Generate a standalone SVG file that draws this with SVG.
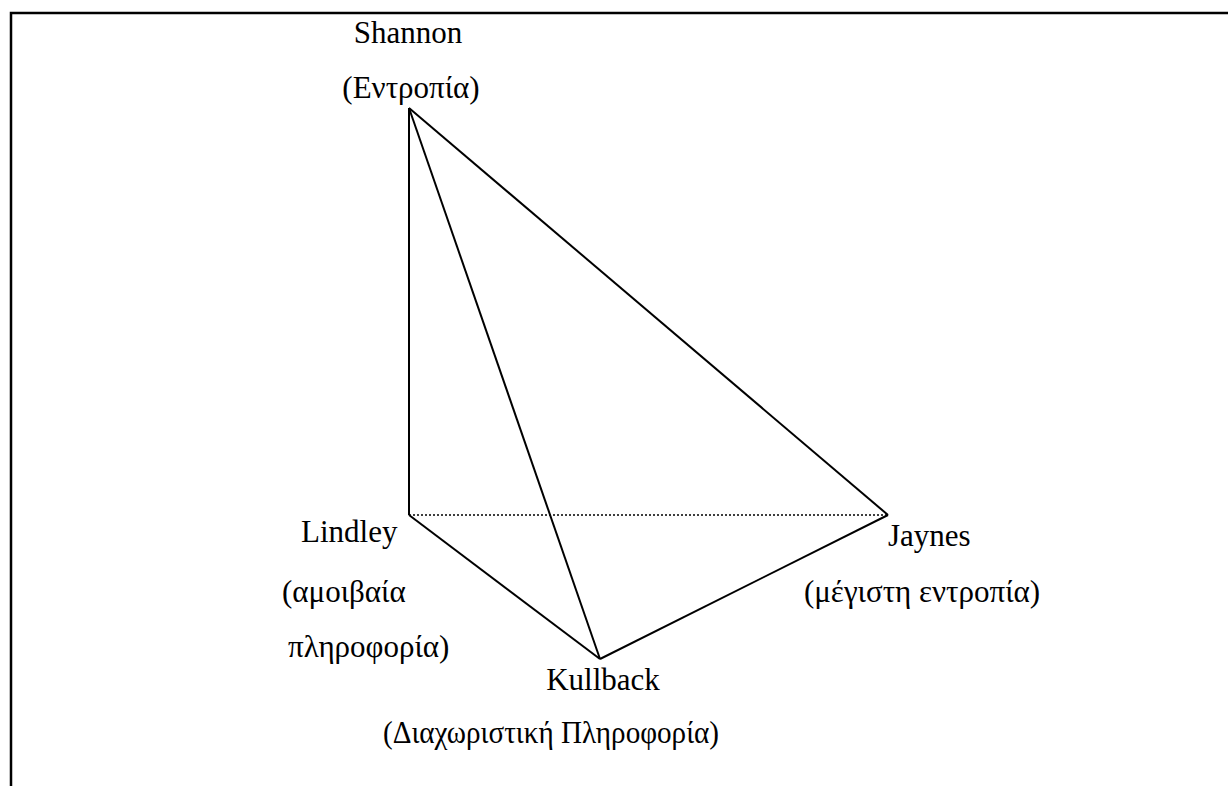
<svg xmlns="http://www.w3.org/2000/svg" width="1228" height="786" viewBox="0 0 1228 786">
<style>
text{font-family:"Liberation Serif","Times New Roman",serif;font-size:31px;fill:#000}
.m{text-anchor:middle}
.e{stroke:#000;stroke-width:2;fill:none}
.d{stroke:#000;stroke-width:1.5;stroke-dasharray:2 2;fill:none}
</style>
<rect width="1228" height="786" fill="#fff"/>
<g id="frame"><path d="M11 786 V13 H1228" stroke="#000" stroke-width="2.5" fill="none"/></g>
<g id="connectors">
<line class="e" x1="409" y1="108" x2="409" y2="515"/>
<line class="e" x1="409" y1="108" x2="600" y2="659"/>
<line class="e" x1="409" y1="108" x2="888" y2="515"/>
<line class="e" x1="409" y1="515" x2="600" y2="659"/>
<line class="e" x1="600" y1="659" x2="888" y2="515"/>
<line class="d" x1="409" y1="515" x2="888" y2="515"/>
</g>
<g id="shannon"><text class="m" x="408" y="43">Shannon</text><text class="m" x="411" y="98">(Εντροπία)</text></g>
<g id="lindley"><text x="301" y="542">Lindley</text><text x="282" y="602">(αμοιβαία</text><text x="288" y="657">πληροφορία)</text></g>
<g id="jaynes"><text x="888" y="546">Jaynes</text><text class="m" x="922" y="602">(μέγιστη εντροπία)</text></g>
<g id="kullback"><text class="m" x="603" y="690">Kullback</text><text class="m" x="551" y="743" textLength="336" lengthAdjust="spacingAndGlyphs">(Διαχωριστική Πληροφορία)</text></g>
</svg>
